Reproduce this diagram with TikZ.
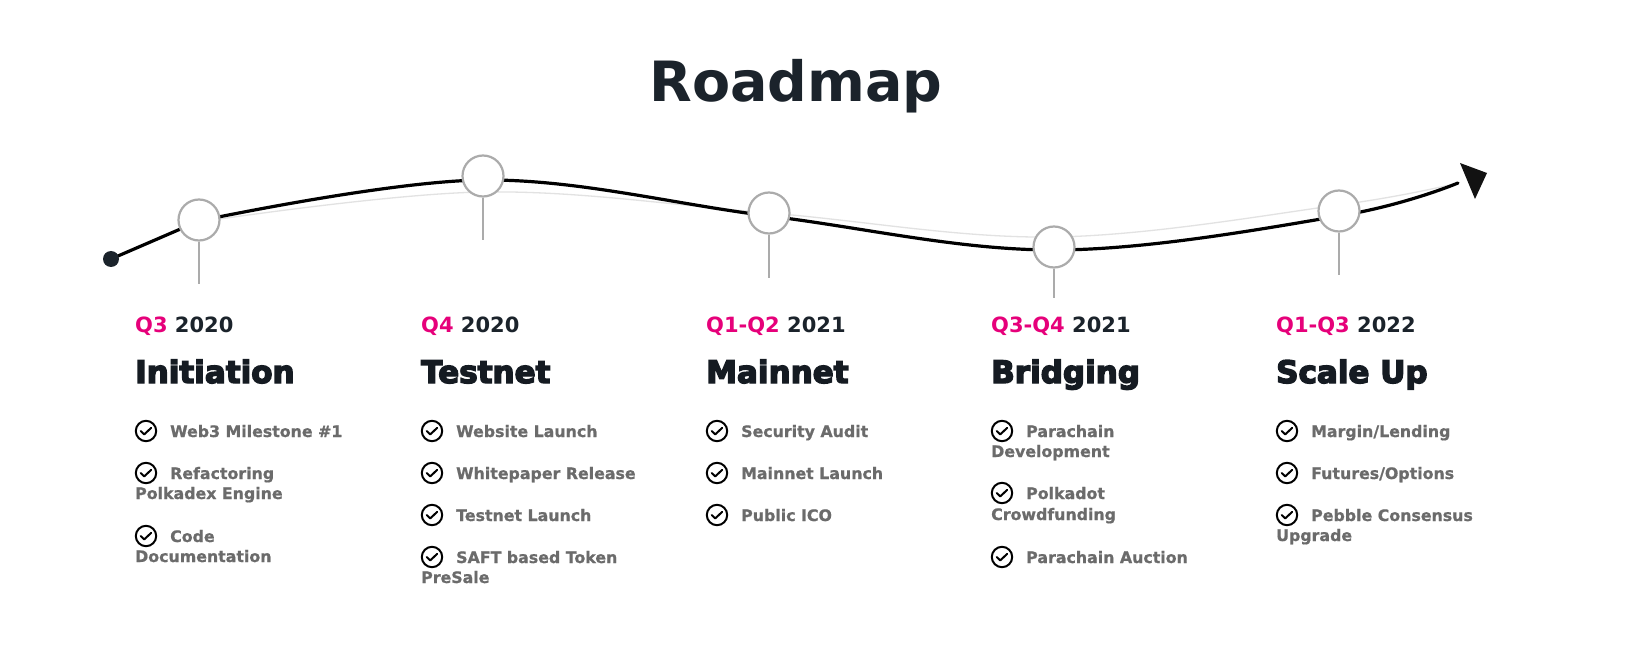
\documentclass[tikz,border=0pt]{standalone}
\usepackage{fontspec}
\setmainfont{DejaVu Sans}
\newfontfamily\headfont[FakeBold=4.5]{DejaVu Sans Bold}
\newfontfamily\itemfont[FakeBold=0.8]{DejaVu Sans Bold}
\usetikzlibrary{calc}

\definecolor{ink}{HTML}{1B232B}
\definecolor{headink}{HTML}{151B22}
\definecolor{pinkq}{HTML}{E6007A}
\definecolor{itemgray}{HTML}{6B6B6B}
\definecolor{ringgray}{HTML}{ABABAB}
\definecolor{trailgray}{HTML}{E2E2E2}
\definecolor{tipink}{HTML}{121212}

\tikzset{
  milestone/.style={circle, draw=ringgray, line width=2.2pt, fill=white,
    minimum size=41pt, inner sep=0pt},
  stem/.style={draw=ringgray, line width=1.5pt},
  yeartext/.style={anchor=base west, inner sep=0pt, text=ink,
    font=\bfseries\fontsize{21}{21}\selectfont},
  headtext/.style={anchor=base west, inner sep=0pt, text=headink,
    font=\headfont\fontsize{31}{31}\selectfont},
  itemtext/.style={anchor=base west, inner sep=0pt, text=itemgray,
    font=\itemfont\fontsize{15.8}{15.8}\selectfont},
  tickmark/.pic={
    \draw[line width=2pt] (0,0) circle[radius=10.2pt];
    \draw[line width=2pt, line cap=round, line join=round]
      (-5.3,0) -- (-1.7,3.4) -- (5.2,-3.2);
  },
}

% one checklist entry: node name, column left, baseline, first line
\newcommand\roaditem[4]{%
  \pic at (#2+11,#3-6) {tickmark};
  \node[itemtext] (#1) at (#2+35,#3) {#4};
}
% continuation line of an entry, flush with the column
\newcommand\roadmore[4]{%
  \node[itemtext] (#1) at (#2,#3) {#4};
}

\begin{document}
\begin{tikzpicture}[x=1pt, y=-1pt]
  \useasboundingbox[fill=white] (0,0) rectangle (1647,655);

  % title
  \node[anchor=base, inner sep=0pt, text=ink,
        font=\bfseries\fontsize{55.5}{55.5}\selectfont] (title) at (796,102) {Roadmap};

  % waypoints of the timeline
  \coordinate (p0) at (111,259);
  \coordinate (p1) at (199,221);
  \coordinate (p2) at (483,180);
  \coordinate (p3) at (769,216);
  \coordinate (p4) at (1054,250);
  \coordinate (p5) at (1339,216);
  \coordinate (pend) at (1458,183);

  \coordinate (g1) at (199,222);
  \coordinate (g2) at (483,192);
  \coordinate (g3) at (769,213);
  \coordinate (g4) at (1054,237);
  \coordinate (g5) at (1339,205);

  % faint guide curve and the main path; the first leg runs straight
  \draw[trailgray, line width=1.3pt] (p0) -- (g1);
  \draw[trailgray, line width=1.3pt]
    plot[smooth, tension=0.6] coordinates {(g1) (g2) (g3) (g4) (g5) (pend)};
  \draw[black, line width=3.2pt, line cap=round] (p0) -- (p1);
  \draw[black, line width=3.2pt, line cap=round]
    plot[smooth, tension=0.6] coordinates {(p1) (p2) (p3) (p4) (p5) (pend)};

  % arrow head
  \coordinate (a1) at (1460,163);
  \coordinate (a2) at (1487,173);
  \coordinate (a3) at (1475,199);
  \fill[tipink] (a1) -- (a2) -- (a3) -- cycle;

  % milestones with their stems
  \coordinate (s1) at (199,284);
  \coordinate (s2) at (483,240);
  \coordinate (s3) at (769,278);
  \coordinate (s4) at (1054,298);
  \coordinate (s5) at (1339,275);

  \node[milestone] (m1) at (199,220) {};
  \node[milestone] (m2) at (483,176) {};
  \node[milestone] (m3) at (769,213) {};
  \node[milestone] (m4) at (1054,247) {};
  \node[milestone] (m5) at (1339,211) {};

  \draw[stem] (m1.south) -- (s1);
  \draw[stem] (m2.south) -- (s2);
  \draw[stem] (m3.south) -- (s3);
  \draw[stem] (m4.south) -- (s4);
  \draw[stem] (m5.south) -- (s5);

  \node[circle, fill=ink, minimum size=16pt, inner sep=0pt] (start) at (p0) {};

  % column 1
  \node[yeartext] (y1) at (135,332) {\textcolor{pinkq}{Q3} 2020};
  \node[headtext] (h1) at (135,383) {Initiation};
  \roaditem{i1a}{135}{437}{Web3 Milestone \#1}
  \roaditem{i1b}{135}{479}{Refactoring}
  \roadmore{i1c}{135}{499}{Polkadex Engine}
  \roaditem{i1d}{135}{542}{Code}
  \roadmore{i1e}{135}{562}{Documentation}

  % column 2
  \node[yeartext] (y2) at (421,332) {\textcolor{pinkq}{Q4} 2020};
  \node[headtext] (h2) at (421,383) {Testnet};
  \roaditem{i2a}{421}{437}{Website Launch}
  \roaditem{i2b}{421}{479}{Whitepaper Release}
  \roaditem{i2c}{421}{521}{Testnet Launch}
  \roaditem{i2d}{421}{563}{SAFT based Token}
  \roadmore{i2e}{421}{583}{PreSale}

  % column 3
  \node[yeartext] (y3) at (706,332) {\textcolor{pinkq}{Q1-Q2} 2021};
  \node[headtext] (h3) at (706,383) {Mainnet};
  \roaditem{i3a}{706}{437}{Security Audit}
  \roaditem{i3b}{706}{479}{Mainnet Launch}
  \roaditem{i3c}{706}{521}{Public ICO}

  % column 4
  \node[yeartext] (y4) at (991,332) {\textcolor{pinkq}{Q3-Q4} 2021};
  \node[headtext] (h4) at (991,383) {Bridging};
  \roaditem{i4a}{991}{437}{Parachain}
  \roadmore{i4b}{991}{457}{Development}
  \roaditem{i4c}{991}{499}{Polkadot}
  \roadmore{i4d}{991}{520}{Crowdfunding}
  \roaditem{i4e}{991}{563}{Parachain Auction}

  % column 5
  \node[yeartext] (y5) at (1276,332) {\textcolor{pinkq}{Q1-Q3} 2022};
  \node[headtext] (h5) at (1276,383) {Scale Up};
  \roaditem{i5a}{1276}{437}{Margin/Lending}
  \roaditem{i5b}{1276}{479}{Futures/Options}
  \roaditem{i5c}{1276}{521}{Pebble Consensus}
  \roadmore{i5d}{1276}{541}{Upgrade}
\end{tikzpicture}
\end{document}
